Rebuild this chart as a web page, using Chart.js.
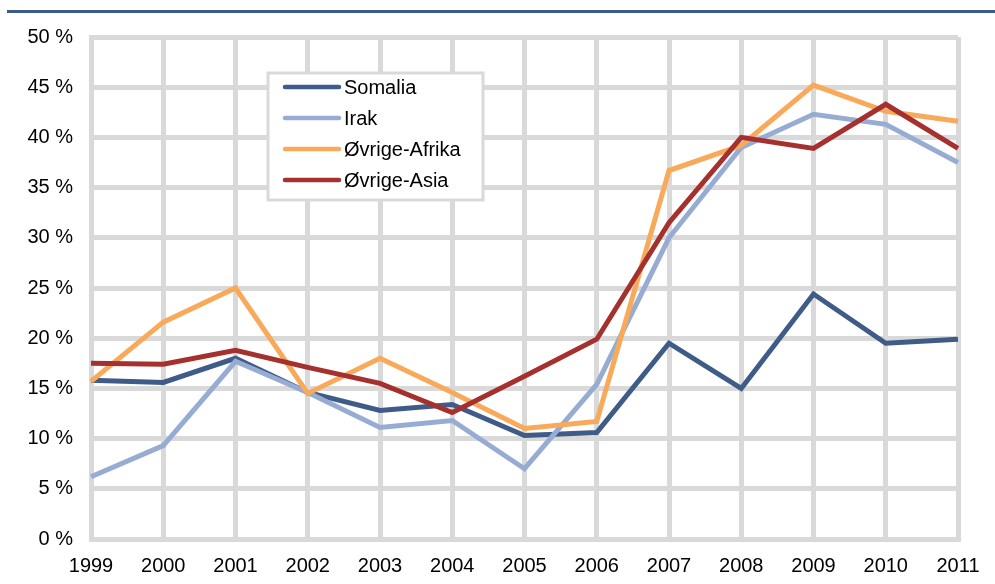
<!DOCTYPE html>
<html>
<head>
<meta charset="utf-8">
<script src="https://cdn.jsdelivr.net/npm/chart.js@4/dist/chart.umd.min.js"></script>
<style>
html,body{margin:0;padding:0;background:#fff;}
#wrap{position:relative;width:995px;height:584px;}
</style>
</head>
<body>
<div id="wrap"><canvas id="c" width="995" height="584"></canvas></div>
<script>
const years = ['1999','2000','2001','2002','2003','2004','2005','2006','2007','2008','2009','2010','2011'];
const somalia = [15.8,15.6,18.0,14.6,12.8,13.4,10.3,10.6,19.5,15.0,24.4,19.5,19.9];
const irak = [6.2,9.3,17.7,14.6,11.1,11.8,7.0,15.4,30.0,39.0,42.3,41.3,37.5];
const ovrigeAfrika = [15.7,21.6,25.0,14.5,18.0,14.6,11.0,11.7,36.7,39.2,45.2,42.6,41.6];
const ovrigeAsia = [17.5,17.4,18.8,17.1,15.5,12.6,16.2,19.9,31.5,40.0,38.9,43.3,38.9];
const yTicksStep = 5;

const FONT = "'Liberation Sans', Arial, sans-serif";

const topLine = {
  id: 'topLine',
  beforeDraw(chart) {
    const ctx = chart.ctx;
    ctx.save();
    ctx.fillStyle = '#3d5a8c';
    ctx.fillRect(7, 10, 988, 3);
    ctx.restore();
  }
};

const boxLegend = {
  id: 'boxLegend',
  afterDatasetsDraw(chart) {
    const ctx = chart.ctx;
    const x0 = 268, y0 = 73, w = 215, h = 127;
    ctx.save();
    ctx.fillStyle = '#fff';
    ctx.fillRect(x0, y0, w, h);
    ctx.strokeStyle = '#d9d9d9';
    ctx.lineWidth = 3;
    ctx.strokeRect(x0, y0, w, h);
    const rows = [87, 118, 149, 180];
    chart.data.datasets.forEach((ds, i) => {
      const y = rows[i];
      ctx.strokeStyle = ds.borderColor;
      ctx.lineWidth = 4.5;
      ctx.lineCap = 'round';
      ctx.beginPath();
      ctx.moveTo(285, y);
      ctx.lineTo(339, y);
      ctx.stroke();
      ctx.fillStyle = '#000';
      ctx.font = '20px ' + FONT;
      ctx.textBaseline = 'middle';
      ctx.textAlign = 'left';
      ctx.fillText(ds.label, 344, y + 1);
    });
    ctx.restore();
  }
};

new Chart(document.getElementById('c'), {
  type: 'line',
  data: {
    labels: years,
    datasets: [
      {label: 'Somalia', data: somalia, borderColor: '#3f5b88', order: 3},
      {label: 'Irak', data: irak, borderColor: '#96acd2', order: 2},
      {label: 'Øvrige-Afrika', data: ovrigeAfrika, borderColor: '#f8a95a', order: 1},
      {label: 'Øvrige-Asia', data: ovrigeAsia, borderColor: '#a5312f', order: 0}
    ].map(d => Object.assign(d, {borderWidth: 5, pointRadius: 0, tension: 0, fill: false, borderJoinStyle: 'miter'}))
  },
  options: {
    responsive: false,
    animation: false,
    devicePixelRatio: 1,
    layout: {padding: {top: 37, right: 37, left: 0, bottom: 0}},
    plugins: {legend: {display: false}, tooltip: {enabled: false}},
    scales: {
      x: {
        type: 'category',
        offset: false,
        grid: {color: '#d9d9d9', lineWidth: 5, drawTicks: false},
        border: {color: '#d9d9d9', width: 5},
        ticks: {color: '#000', font: {size: 20, family: FONT}, padding: 15, maxRotation: 0, autoSkip: false},
        afterFit(s) { s.height = 45; }
      },
      y: {
        min: 0, max: 50,
        grid: {color: '#d9d9d9', lineWidth: 5, drawTicks: false},
        border: {color: '#d9d9d9', width: 5},
        ticks: {color: '#000', stepSize: yTicksStep, font: {size: 20, family: FONT}, padding: 18,
          callback: v => v + ' %'},
        afterFit(s) { s.width = 91; }
      }
    }
  },
  plugins: [topLine, boxLegend]
});
</script>
</body>
</html>
